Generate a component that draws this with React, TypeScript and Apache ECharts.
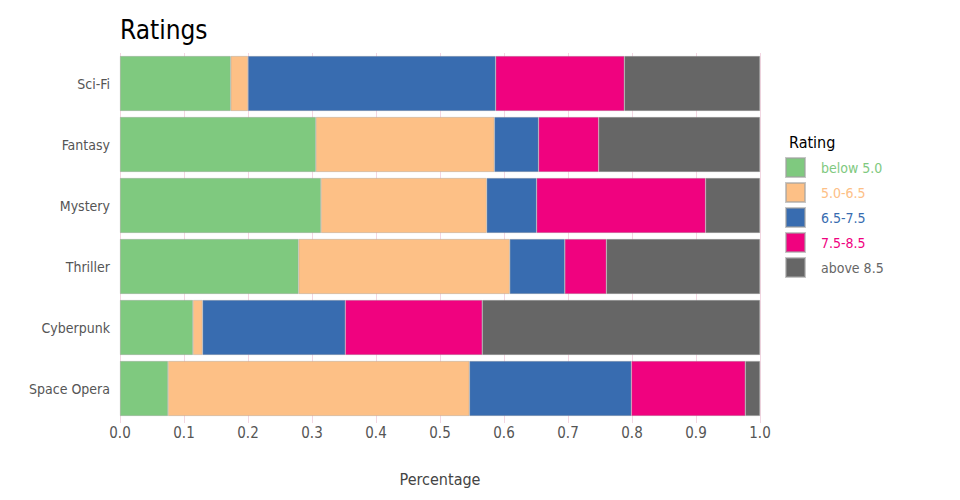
import React, { useEffect, useRef } from "react";
import * as echarts from "echarts";

const categories = ["Sci-Fi", "Fantasy", "Mystery", "Thriller", "Cyberpunk", "Space Opera"];
const seriesNames = ["below 5.0", "5.0-6.5", "6.5-7.5", "7.5-8.5", "above 8.5"];
const colors = ["#7fc97f", "#fdc086", "#386cb0", "#f0027f", "#666666"];
const below50 = [0.173, 0.306, 0.314, 0.279, 0.114, 0.075];
const r50to65 = [0.027, 0.279, 0.259, 0.330, 0.015, 0.471];
const r65to75 = [0.387, 0.069, 0.078, 0.086, 0.223, 0.253];
const r75to85 = [0.201, 0.094, 0.264, 0.065, 0.214, 0.178];
const above85 = [0.212, 0.252, 0.085, 0.240, 0.434, 0.023];
const xTicks = [0, 0.1, 0.2, 0.3, 0.4, 0.5, 0.6, 0.7, 0.8, 0.9, 1.0];

const FONT = "'DejaVu Sans Condensed', 'Liberation Sans Narrow', sans-serif";

export default function App() {
  const ref = useRef<HTMLDivElement>(null);
  useEffect(() => {
    if (!ref.current) return;
    const chart = echarts.init(ref.current, undefined, { renderer: "svg" });
    const values = [below50, r50to65, r65to75, r75to85, above85];
    chart.setOption({
      animation: false,
      textStyle: { fontFamily: FONT },
      title: [
        {
          text: "Ratings",
          left: 107,
          top: 4,
          textStyle: { fontFamily: FONT, fontSize: 26, fontWeight: "normal", color: "#000" },
        },
        {
          text: "Rating",
          left: 776,
          top: 121,
          textStyle: { fontFamily: FONT, fontSize: 16, fontWeight: "normal", color: "#000" },
        },
      ],
      legend: {
        orient: "vertical",
        left: 772,
        top: 144,
        icon: "rect",
        itemWidth: 19,
        itemHeight: 19,
        itemGap: 4,
        data: seriesNames.map((n, i) => ({
          name: n,
          textStyle: { color: colors[i], fontFamily: FONT, fontSize: 14, padding: [0, 0, 0, 11] },
        })),
        selectedMode: false,
      },
      grid: { left: 112, right: 192, top: 45, bottom: 72 },
      xAxis: {
        type: "value",
        min: 0,
        max: 1,
        interval: 0.1,
        name: "Percentage",
        nameLocation: "middle",
        nameGap: 52,
        nameTextStyle: { fontFamily: FONT, fontSize: 16, color: "#444" },
        axisLine: { show: false },
        axisTick: { show: true, length: 4, lineStyle: { color: "#f3d6e2" } },
        axisLabel: {
          fontFamily: FONT,
          fontSize: 15,
          color: "#555",
          margin: 6,
          formatter: (v: number) => {
            const t = xTicks.find((x) => Math.abs(x - v) < 1e-9);
            return (t ?? v).toFixed(1);
          },
        },
        splitLine: { show: true, lineStyle: { color: "#f3d6e2", width: 1 } },
      },
      yAxis: {
        type: "category",
        data: categories,
        inverse: true,
        axisLine: { show: false },
        axisTick: { show: false },
        axisLabel: { fontFamily: FONT, fontSize: 14, color: "#555", margin: 10 },
      },
      series: seriesNames.map((n, i) => ({
        name: n,
        type: "bar",
        stack: "total",
        barCategoryGap: "10%",
        data: values[i],
        itemStyle: { color: colors[i], borderColor: "rgba(160,160,160,0.6)", borderWidth: 0.6 },
      })),
    });
    return () => chart.dispose();
  }, []);
  return <div ref={ref} style={{ width: 944, height: 484 }} />;
}
